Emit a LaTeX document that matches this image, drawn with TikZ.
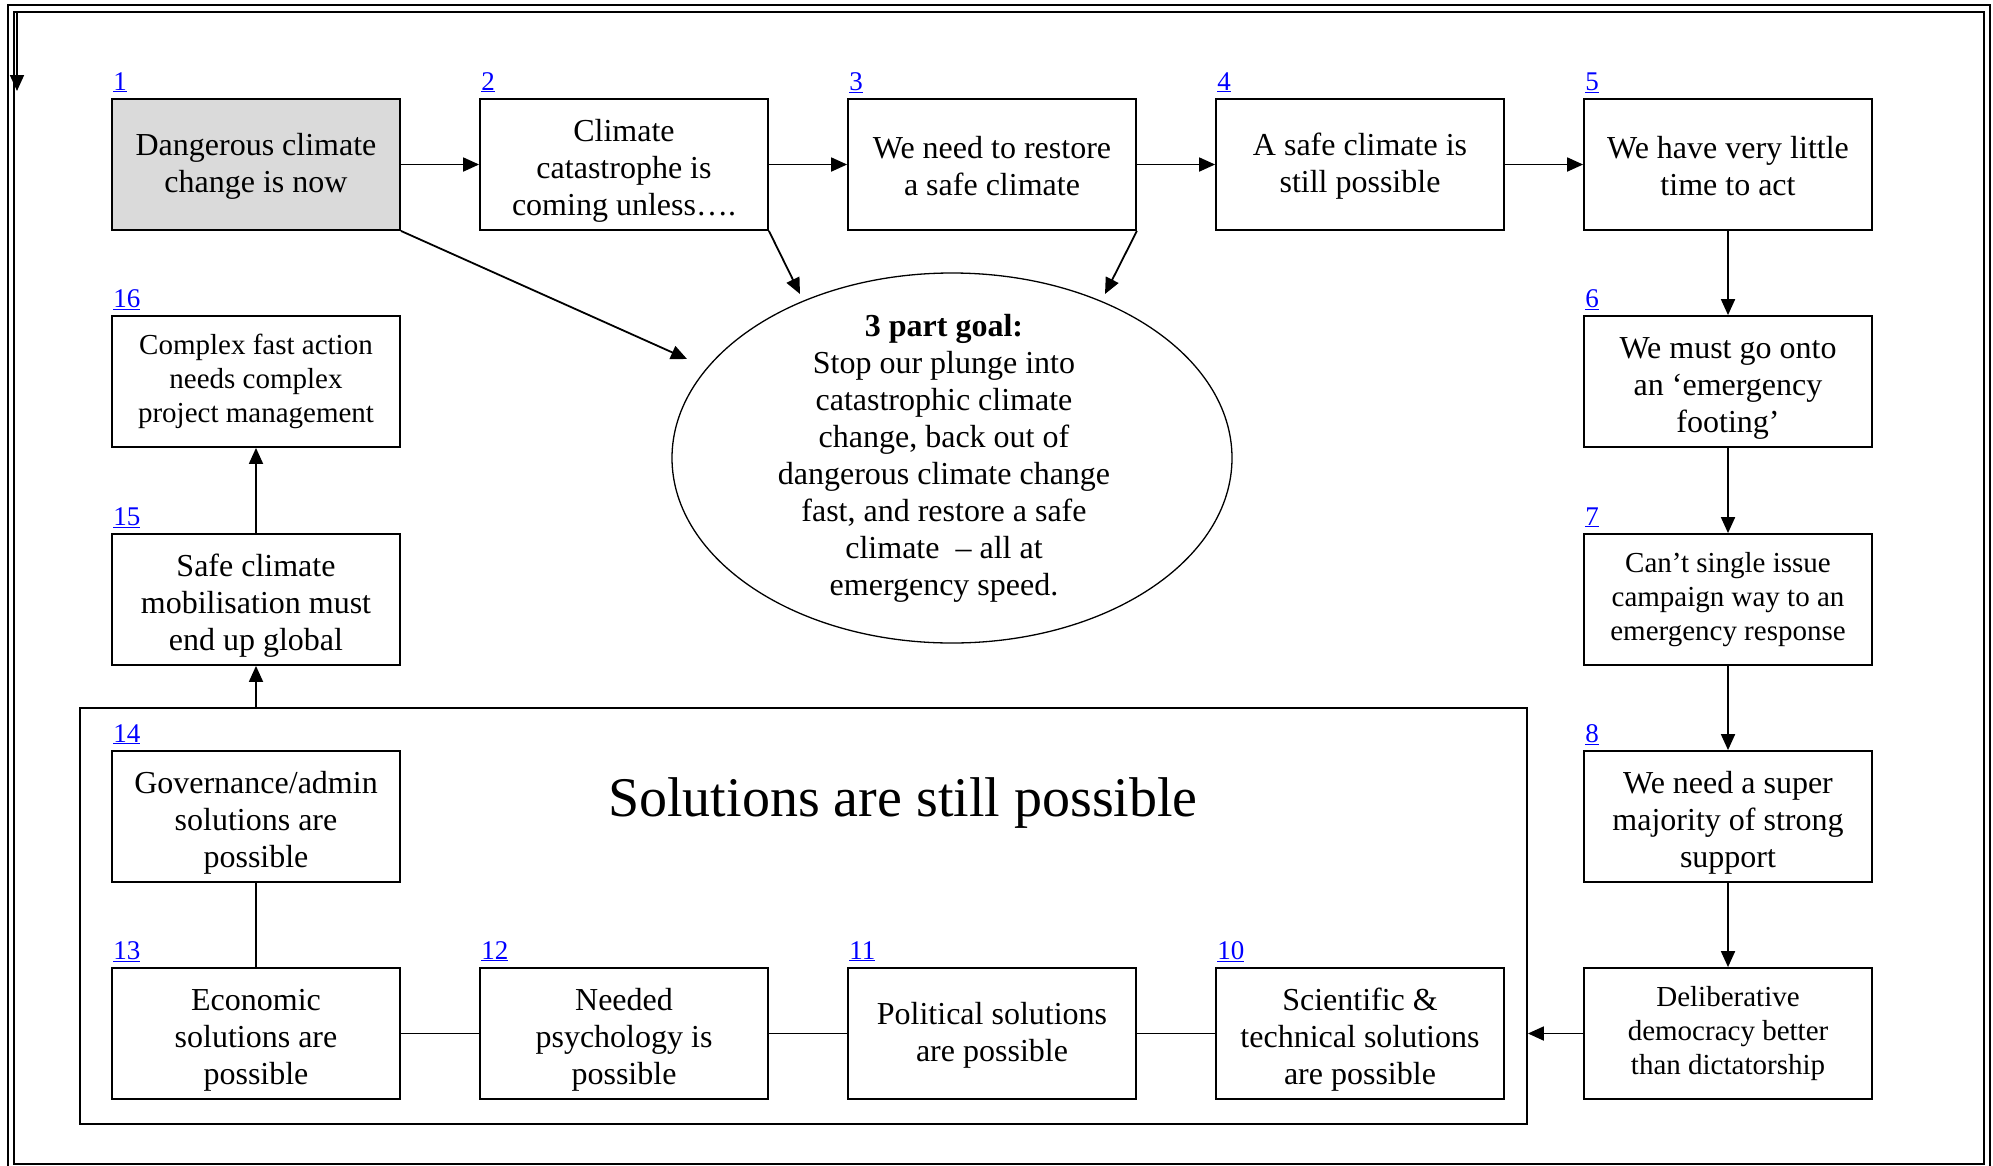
\documentclass[tikz,border=0pt]{standalone}
\usepackage{fontspec}
\setmainfont{Liberation Serif}
\usetikzlibrary{arrows.meta,shapes.geometric,calc}
\definecolor{boxgrey}{RGB}{218,218,218}
\definecolor{linkblue}{RGB}{0,0,255}
\newcommand{\boxstrutiii}{\rule[-7pt]{0pt}{41pt}}
\newcommand{\boxstrutii}{\rule[-7pt]{0pt}{33pt}}
\begin{document}
\begin{tikzpicture}[x=1pt,y=-1pt,
  box/.style={draw, line width=1.8pt, minimum width=288pt, minimum height=131pt,
    inner sep=0pt, align=center, font=\fontsize{32}{37}\selectfont},
  sbox/.style={box, font=\fontsize{29}{34}\selectfont},
  num/.style={anchor=base west, text=linkblue, inner sep=0pt,
    font=\fontsize{27}{30}\selectfont},
  arr/.style={line width=1.8pt, -{Triangle[length=16pt,width=14pt]}},
  link/.style={line width=1.8pt}]
\useasboundingbox (0,0) rectangle (1993,1165);
% page frame
\draw[line width=2pt] (8,5) rectangle (1990,1180);
\draw[line width=1.6pt] (14,12) rectangle (1984,1164);
\coordinate (fa) at (17,12);
\coordinate (fb) at (17,91);
\draw[arr] (fa) -- (fb);

% solutions frame
\node[draw, line width=1.8pt, minimum width=1447pt, minimum height=416pt, inner sep=0pt]
  (sol) at (803.5,916) {};
\node[anchor=base, inner sep=0pt, font=\fontsize{56}{60}\selectfont]
  (soltxt) at (903,816) {Solutions are still possible};

% row 1
\node[box, fill=boxgrey] (b1) at (256,164.5) {\boxstrutii Dangerous climate\\change is now};
\node[box] (b2) at (624,164.5) {\boxstrutiii Climate\\catastrophe is\\coming unless….};
\node[box] (b3) at (992,164.5) {\boxstrutii We need to restore\\a safe climate};
\node[box] (b4) at (1360,164.5) {\boxstrutii A safe climate is\\still possible};
\node[box] (b5) at (1728,164.5) {\boxstrutii We have very little\\time to act};
% right column
\node[box] (b6) at (1728,381.5) {\boxstrutiii We must go onto\\an ‘emergency\\footing’};
\node[sbox] (b7) at (1728,599.5) {Can’t single issue\\campaign way to an\\emergency response};
\node[box] (b8) at (1728,816.5) {\boxstrutiii We need a super\\majority of strong\\support};
\node[sbox] (b9) at (1728,1033.5) {Deliberative\\democracy better\\than dictatorship};
% bottom row
\node[box] (b10) at (1360,1033.5) {\boxstrutiii Scientific \&\\technical solutions\\are possible};
\node[box] (b11) at (992,1033.5) {\boxstrutii Political solutions\\are possible};
\node[box] (b12) at (624,1033.5) {\boxstrutiii Needed\\psychology is\\possible};
\node[box] (b13) at (256,1033.5) {\boxstrutiii Economic\\solutions are\\possible};
% left column
\node[box] (b14) at (256,816.5) {\boxstrutiii Governance/admin\\solutions are\\possible};
\node[box] (b15) at (256,599.5) {\boxstrutiii Safe climate\\mobilisation must\\end up global};
\node[sbox] (b16) at (256,381.5) {Complex fast action\\needs complex\\project management};

% goal ellipse
\node[ellipse, draw, line width=1.3pt, minimum width=560pt, minimum height=370pt,
  inner sep=0pt] (goal) at (952,458) {};
\node[align=center, inner sep=0pt, font=\fontsize{32}{37}\selectfont] (goaltxt) at (944,458)
  {\textbf{3 part goal:}\\Stop our plunge into\\catastrophic climate\\change, back out of\\dangerous climate change\\fast, and restore a safe\\climate~ – all at\\emergency speed.};

% number labels
\foreach \b/\t in {b1/1,b2/2,b3/3,b4/4,b5/5,b6/6,b7/7,b8/8,b10/10,b11/11,b12/12,b13/13,b14/14,b15/15,b16/16}
  \node[num] (n\t) at ($(\b.north west)+(2,-8)$) {\underline{\t}};

% connectors
\draw[arr] (b1) -- (b2);
\draw[arr] (b2) -- (b3);
\draw[arr] (b3) -- (b4);
\draw[arr] (b4) -- (b5);
\draw[arr] (b5) -- (b6);
\draw[arr] (b6) -- (b7);
\draw[arr] (b7) -- (b8);
\draw[arr] (b8) -- (b9);
\draw[arr] (b9.west) -- (b9.west -| sol.east);
\draw[link] (b10) -- (b11);
\draw[link] (b11) -- (b12);
\draw[link] (b12) -- (b13);
\draw[link] (b13) -- (b14);
\draw[arr] (b15.south |- sol.north) -- (b15.south);
\draw[arr] (b15) -- (b16);

\coordinate (t1) at (687,359);
\coordinate (t2) at (800,294);
\coordinate (t3) at (1105,294);
\draw[arr] (b1.south east) -- (t1);
\draw[arr] (b2.south east) -- (t2);
\draw[arr] (b3.south east) -- (t3);
\end{tikzpicture}
\end{document}
